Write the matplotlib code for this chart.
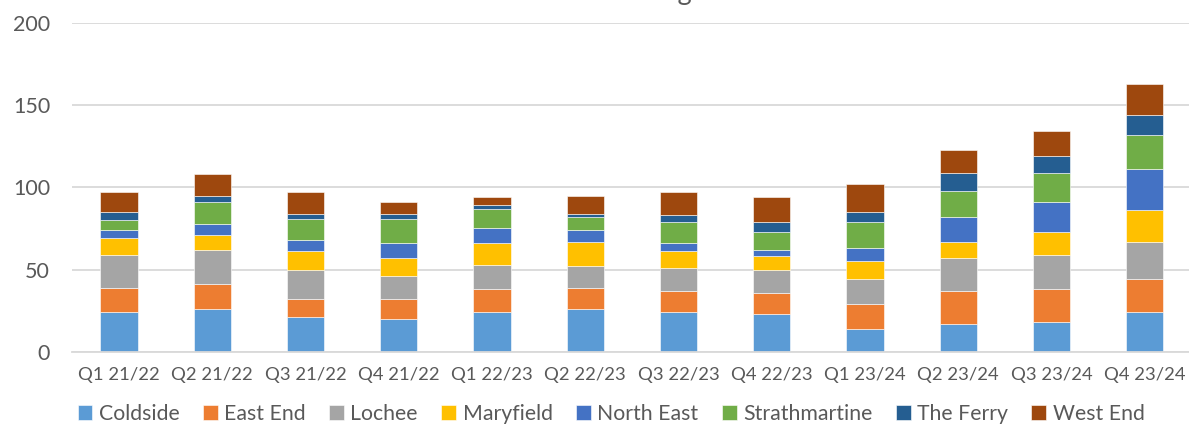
import matplotlib
matplotlib.use("Agg")
import matplotlib.pyplot as plt
import numpy as np

quarters = ["Q1 21/22", "Q2 21/22", "Q3 21/22", "Q4 21/22", "Q1 22/23", "Q2 22/23",
            "Q3 22/23", "Q4 22/23", "Q1 23/24", "Q2 23/24", "Q3 23/24", "Q4 23/24"]

coldside      = [24, 26, 21, 20, 24, 26, 24, 23, 14, 17, 18, 24]
east_end      = [15, 15, 11, 12, 14, 13, 13, 13, 15, 20, 20, 20]
lochee        = [20, 21, 18, 14, 15, 13, 14, 14, 15, 20, 21, 23]
maryfield     = [10,  9, 11, 11, 13, 15, 10,  8, 11, 10, 14, 19]
north_east    = [ 5,  7,  7,  9,  9,  7,  5,  4,  8, 15, 18, 25]
strathmartine = [ 6, 13, 13, 15, 12,  8, 13, 11, 16, 16, 18, 21]
the_ferry     = [ 5,  4,  3,  3,  2,  2,  4,  6,  6, 11, 10, 12]
west_end      = [12, 13, 13,  7,  5, 11, 14, 15, 17, 14, 15, 19]

series_names = ["Coldside", "East End", "Lochee", "Maryfield", "North East",
                "Strathmartine", "The Ferry", "West End"]
series_values = [coldside, east_end, lochee, maryfield, north_east,
                 strathmartine, the_ferry, west_end]
colors = ["#5B9BD5", "#ED7D31", "#A5A5A5", "#FFC000", "#4472C4",
          "#70AD47", "#255E91", "#9E480E"]

title_text = "Number of Cases Discharged to Houses"

plt.rcParams['font.family'] = ['Lato', 'DejaVu Sans']
text_color = "#595959"

W, H = 1189, 424
fig = plt.figure(figsize=(W / 100, H / 100), dpi=100)
ax_left, ax_right = 72.3, 1191.3
ax_bottom, ax_top = H - 351.7, H - 23.0
ax = fig.add_axes([ax_left / W, ax_bottom / H, (ax_right - ax_left) / W, (ax_top - ax_bottom) / H])

x = np.arange(len(quarters))
bottom = np.zeros(len(quarters))
handles = []
for name, vals, col in zip(series_names, series_values, colors):
    b = ax.bar(x, vals, width=0.4, bottom=bottom, color=col, label=name,
               edgecolor="#ffffff", linewidth=0.4, zorder=3)
    handles.append(b)
    bottom += np.array(vals)

ax.set_xlim(-0.5, len(quarters) - 0.5)
ax.set_ylim(0, 200)
ax.set_yticks([0, 50, 100, 150, 200])
ax.yaxis.grid(True, color="#d9d9d9", linewidth=1.3, zorder=0)
ax.set_axisbelow(True)
for s in ["top", "right", "left"]:
    ax.spines[s].set_visible(False)
ax.spines["bottom"].set_color("#d9d9d9")
ax.spines["bottom"].set_linewidth(1.3)
ax.spines["bottom"].set_zorder(4)

ax.set_xticks(x)
ax.set_xticklabels(quarters, fontsize=13.3, color=text_color)
ax.tick_params(axis="x", length=0, pad=11)
ax.tick_params(axis="y", length=0, pad=16, labelsize=15.5, labelcolor=text_color)

fig.text(612 / W, (H - 0.3) / H, title_text, ha="center", va="baseline", fontsize=19.5, color=text_color)

leg = fig.legend(handles=handles, labels=series_names, loc="center",
                 bbox_to_anchor=(611 / W, (H - 414) / H), ncol=8, frameon=False,
                 fontsize=15.3, handlelength=0.7, handleheight=0.7, handletextpad=0.3,
                 columnspacing=1.1, borderaxespad=0)
for t in leg.get_texts():
    t.set_color(text_color)

fig.savefig("out.png", dpi=100)
